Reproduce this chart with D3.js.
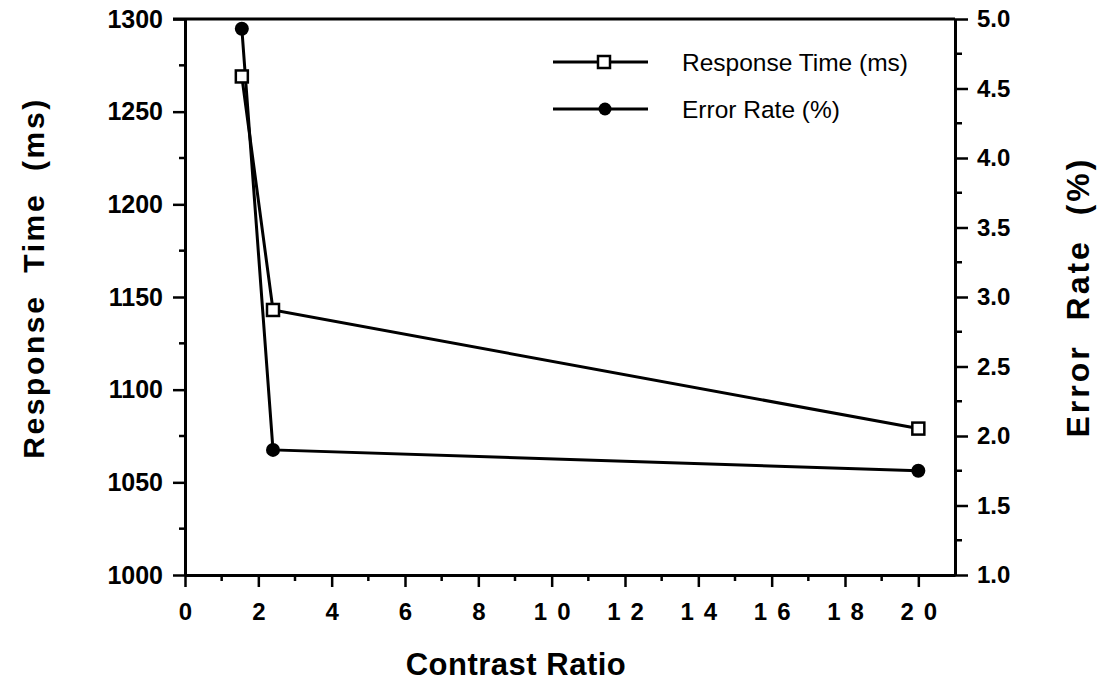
<!DOCTYPE html>
<html>
<head>
<meta charset="utf-8">
<script src="https://cdn.jsdelivr.net/npm/d3@7"></script>
<style>
  body { margin: 0; background: #fff; }
  svg { font-family: "Liberation Sans", Arial, sans-serif; }
</style>
</head>
<body>
<div id="chart"></div>
<script>
// contrast ratio of each condition
const contrast = [1.55, 2.4, 20];
const responseTime = [1269, 1143, 1079]; // ms
const errorRate = [4.93, 1.9, 1.75];     // %
const xTicks = [0, 2, 4, 6, 8, 10, 12, 14, 16, 18, 20];
const rtTicks = [1000, 1050, 1100, 1150, 1200, 1250, 1300];
const erTicks = [1.0, 1.5, 2.0, 2.5, 3.0, 3.5, 4.0, 4.5, 5.0];

const width = 1100, height = 691;
const mLeft = 185, mRight = 955, mTop = 19, mBottom = 575;

const svg = d3.select("#chart").append("svg")
  .attr("width", width)
  .attr("height", height);

const x = d3.scaleLinear().domain([0, 21]).range([mLeft, mRight]);
const yL = d3.scaleLinear().domain([1000, 1300]).range([mBottom, mTop]);
const yR = d3.scaleLinear().domain([1, 5]).range([mBottom, mTop]);

// minor ticks
const minor = svg.append("g").attr("stroke", "#000").attr("stroke-width", 2.5);
minor.selectAll(".mx").data(d3.range(1, 21, 2)).join("line")
  .attr("x1", d => x(d)).attr("x2", d => x(d))
  .attr("y1", mBottom).attr("y2", mBottom + 6);
minor.selectAll(".ml").data(d3.range(1025, 1300, 50)).join("line")
  .attr("x1", mLeft - 6).attr("x2", mLeft)
  .attr("y1", d => yL(d)).attr("y2", d => yL(d));
minor.selectAll(".mr").data(d3.range(1.25, 5, 0.5)).join("line")
  .attr("x1", mRight).attr("x2", mRight + 7)
  .attr("y1", d => yR(d)).attr("y2", d => yR(d));

const xAxis = svg.append("g")
  .attr("transform", `translate(0,${mBottom})`)
  .call(d3.axisBottom(x).tickValues(xTicks).tickSize(12).tickPadding(16).tickSizeOuter(0));

const lAxis = svg.append("g")
  .attr("transform", `translate(${mLeft},0)`)
  .call(d3.axisLeft(yL).tickValues(rtTicks).tickFormat(d3.format("d"))
    .tickSize(12).tickPadding(10).tickSizeOuter(0));

const rAxis = svg.append("g")
  .attr("transform", `translate(${mRight},0)`)
  .call(d3.axisRight(yR).tickValues(erTicks).tickFormat(d3.format(".1f"))
    .tickSize(13).tickPadding(9).tickSizeOuter(0));

[xAxis, lAxis, rAxis].forEach(g => {
  g.attr("font-size", null).attr("font-family", null);
  g.select(".domain").attr("stroke-width", 3);
  g.selectAll(".tick line").attr("stroke-width", 2.5);
  g.selectAll(".tick text")
    .attr("fill", "#000")
    .style("font-size", "25px")
    .style("font-weight", "bold");
});
xAxis.selectAll(".tick text").style("font-size", "24px")
  .attr("letter-spacing", d => d >= 10 ? "10px" : null)
  .attr("dx", d => d >= 10 ? "5px" : null);
rAxis.selectAll(".tick text").style("font-size", "24px");

// top frame line
svg.append("line")
  .attr("x1", mLeft - 12).attr("x2", mRight)
  .attr("y1", mTop).attr("y2", mTop)
  .attr("stroke", "#000").attr("stroke-width", 3);

// series lines
const lineRT = d3.line().x((d, i) => x(contrast[i])).y(d => yL(d));
const lineER = d3.line().x((d, i) => x(contrast[i])).y(d => yR(d));

svg.append("path").datum(errorRate)
  .attr("d", lineER).attr("fill", "none")
  .attr("stroke", "#000").attr("stroke-width", 3);
svg.append("path").datum(responseTime)
  .attr("d", lineRT).attr("fill", "none")
  .attr("stroke", "#000").attr("stroke-width", 3);

svg.selectAll(".er").data(errorRate).join("circle")
  .attr("cx", (d, i) => x(contrast[i]))
  .attr("cy", d => yR(d))
  .attr("r", 7)
  .attr("fill", "#000");

svg.selectAll(".rt").data(responseTime).join("rect")
  .attr("x", (d, i) => x(contrast[i]) - 6)
  .attr("y", d => yL(d) - 6)
  .attr("width", 12).attr("height", 12)
  .attr("fill", "#fff")
  .attr("stroke", "#000").attr("stroke-width", 2.5);

// legend
const legend = svg.append("g").attr("transform", "translate(553,62)");
legend.append("line").attr("x1", 0).attr("x2", 95).attr("y1", 0).attr("y2", 0)
  .attr("stroke", "#000").attr("stroke-width", 3);
legend.append("rect").attr("x", 45).attr("y", -6).attr("width", 12).attr("height", 12)
  .attr("fill", "#fff").attr("stroke", "#000").attr("stroke-width", 2.5);
legend.append("text").attr("x", 129).attr("y", 9)
  .attr("font-size", 24.5).text("Response Time (ms)");
legend.append("line").attr("x1", 0).attr("x2", 95).attr("y1", 47).attr("y2", 47)
  .attr("stroke", "#000").attr("stroke-width", 3);
legend.append("circle").attr("cx", 52).attr("cy", 47).attr("r", 6.5).attr("fill", "#000");
legend.append("text").attr("x", 129).attr("y", 56)
  .attr("font-size", 24.5).text("Error Rate (%)");

// axis titles
svg.append("text")
  .attr("transform", "translate(44,278) rotate(-90)")
  .attr("text-anchor", "middle")
  .attr("font-size", 30).attr("font-weight", "bold")
  .attr("letter-spacing", "2.6px")
  .attr("xml:space", "preserve")
  .text("Response  Time  (ms)");

svg.append("text")
  .attr("transform", "translate(1089,297) rotate(-90)")
  .attr("text-anchor", "middle")
  .attr("font-size", 32).attr("font-weight", "bold")
  .attr("letter-spacing", "3px")
  .attr("xml:space", "preserve")
  .text("Error  Rate  (%)");

svg.append("text")
  .attr("x", 516).attr("y", 675)
  .attr("text-anchor", "middle")
  .attr("font-size", 31).attr("font-weight", "bold")
  .attr("letter-spacing", "0.5px")
  .text("Contrast Ratio");
</script>
</body>
</html>
